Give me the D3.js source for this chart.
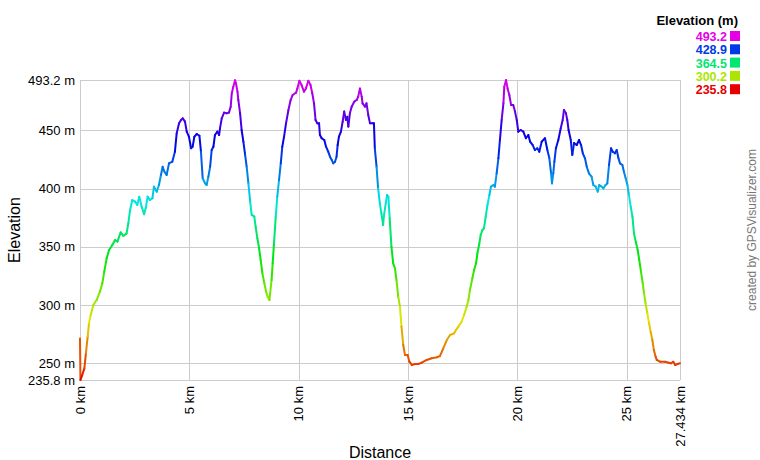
<!DOCTYPE html>
<html><head><meta charset="utf-8">
<script src="https://cdn.jsdelivr.net/npm/d3@7/dist/d3.min.js"></script>
<style>body{margin:0;background:#fff}svg{display:block;font-family:"Liberation Sans",Arial,sans-serif}</style>
</head><body><svg id="c" width="760" height="460"></svg>
<script>
const distKm = [
0,0.02,0.1,0.2,0.27,0.35,0.41,0.49,0.61,0.76,
0.91,1.02,1.11,1.22,1.33,1.48,1.6,1.71,1.86,1.98,
2.13,2.21,2.29,2.39,2.52,2.62,2.71,2.82,2.93,3.02,
3.09,3.2,3.31,3.38,3.51,3.61,3.7,3.78,3.86,3.96,
4.07,4.22,4.34,4.42,4.53,4.62,4.7,4.8,4.88,4.98,
5.08,5.15,5.23,5.34,5.46,5.53,5.61,5.72,5.79,5.87,
5.95,6.02,6.1,6.17,6.28,6.36,6.4,6.48,6.59,6.71,
6.81,6.89,6.94,7.01,7.09,7.13,7.2,7.24,7.32,7.39,
7.47,7.55,7.62,7.7,7.78,7.85,7.97,8.03,8.11,8.19,
8.26,8.34,8.43,8.51,8.58,8.66,8.76,8.81,8.87,8.95,
9.02,9.1,9.18,9.25,9.33,9.42,9.53,9.63,9.72,9.88,
9.94,10.03,10.13,10.24,10.33,10.44,10.54,10.62,10.7,10.77,
10.85,10.93,10.97,11.05,11.17,11.25,11.35,11.43,11.51,11.58,
11.66,11.73,11.78,11.84,11.93,12.01,12.08,12.16,12.22,12.27,
12.34,12.42,12.54,12.65,12.72,12.8,12.88,12.92,13.03,13.1,
13.18,13.26,13.36,13.44,13.48,13.56,13.63,13.71,13.78,13.86,
13.89,13.98,14.04,14.1,14.16,14.24,14.32,14.4,14.47,14.55,
14.63,14.7,14.78,14.86,14.98,15.06,15.17,15.32,15.47,15.63,
15.85,16.08,16.31,16.46,16.61,16.77,16.92,17.1,17.19,17.3,
17.45,17.56,17.68,17.76,17.83,17.94,18.02,18.11,18.17,18.26,
18.32,18.4,18.47,18.55,18.63,18.72,18.79,18.9,18.97,19.05,
19.13,19.2,19.28,19.36,19.4,19.48,19.55,19.63,19.71,19.81,
19.89,19.97,20.04,20.15,20.27,20.39,20.5,20.58,20.7,20.8,
20.91,21,21.11,21.26,21.37,21.46,21.54,21.58,21.64,21.69,
21.76,21.87,21.98,22.07,22.13,22.22,22.28,22.34,22.44,22.51,
22.59,22.71,22.82,22.91,22.99,23.09,23.17,23.27,23.39,23.47,
23.58,23.67,23.74,23.85,23.93,24.03,24.11,24.19,24.28,24.36,
24.46,24.54,24.62,24.69,24.8,24.87,24.95,25.03,25.1,25.18,
25.26,25.33,25.41,25.5,25.57,25.65,25.73,25.79,25.86,25.94,
26.02,26.09,26.17,26.24,26.32,26.37,26.52,26.75,26.9,27.02,
27.13,27.21,27.32,27.434
];
const elevM = [
271.5,235.8,240,245.8,258.7,273,284.4,291.6,300.2,304.4,
311.6,318.7,328.8,340.2,347.3,351.6,355.9,354.5,362.5,359.4,
361.6,370.2,381.7,390.2,388.8,386,393.1,384.5,378,384.5,
393.1,390.2,391.7,401.7,397.4,403.1,411.7,418.8,414.5,411.7,
421.7,423.1,431.7,447.4,456,458.9,460.3,457.5,448.9,444.6,
434.6,436,444.6,446.9,445.4,431.7,408.8,404.5,403.1,410.3,
418.8,433.1,436,446,448.9,446,451.7,460.3,465.2,464.6,
465.2,470.3,481.8,487.5,493,490.4,483.2,476,464.6,450.3,
440.3,428.9,418.8,404.5,388.8,377.4,376,367.4,357.3,348.8,
338.8,327.3,318.7,311.6,307.3,304.4,321.6,335.9,353,376,
393.1,407.4,421.7,436,444.6,456,467.5,476,480.3,482.3,
486,492.5,488.9,483.2,486,492.5,488.9,481.8,473.2,458.9,
456,456,446,443.2,441.7,436,431.7,427.4,424.6,421.7,
423.1,427.4,437.4,444.6,448.9,457.5,466.1,458.9,461.7,453.2,
464.6,470.3,474.6,476,478.9,486,478.9,473.2,470.3,473.2,
463.2,456,456,456,434.6,418.8,400.2,387.4,378.8,368.8,
375.9,387.4,394.5,393.1,374.5,350.2,335.9,331.6,321.6,307.3,
298.7,281.6,265.8,257.2,257.2,251.5,248.7,249.5,249.5,250.7,
253,254.4,255.2,256.4,263,270.1,274.4,275.8,278.7,281.6,
285.8,291.6,298.7,304.4,313,323,330.2,335.9,344.5,353,
360.2,364.5,365.9,375.9,386,394.5,401.7,403.1,401.7,413.1,
426,441.7,458.9,473.2,487.5,493.2,486,480.3,471.8,471.8,
466.1,458.9,448.9,450.3,448.9,443.2,446,440.3,437.4,433.1,
434.6,431.7,440.3,443.2,433.1,426,413.1,404.5,413.1,423.1,
434.6,441.7,451.7,458.9,467.5,464.6,458.9,450.3,441.7,428.9,
439.1,437.4,441.7,437.4,430.3,426,418.8,413.1,410.3,403.1,
401.7,397.4,403.1,401.7,400.2,403.1,404.5,420.3,434.6,431.7,
430.3,433.1,426,421.7,420.3,414.5,408.8,403.1,394.5,384.5,
376,361.6,354.5,347.3,338.8,328.8,318.7,310.2,301.6,293,
284.4,277.3,270.1,261.5,255.8,253,251.5,251.5,250.7,250.1,
251.5,248.7,249.5,250.1
];
const yTicks = [235.8, 250, 300, 350, 400, 450, 493.2];
const yTickLabels = ["235.8 m","250 m","300 m","350 m","400 m","450 m","493.2 m"];
const xTicks = [0, 5, 10, 15, 20, 25, 27.434];
const xTickLabels = ["0 km","5 km","10 km","15 km","20 km","25 km","27.434 km"];
const legendValues = [493.2, 428.9, 364.5, 300.2, 235.8];
const legendTitle = "Elevation (m)";

const svg = d3.select("#c");
const L=80,R=680,T=80,B=380;
const x = d3.scaleLinear().domain([0,27.434]).range([L,R]);
const y = d3.scaleLinear().domain([235.8,493.2]).range([B,T]);
const hue = d3.scaleLinear().domain([235.8,493.2]).range([0,300]).clamp(true);
const col = v => d3.hsl(hue(v),1,0.45).toString();

// grid
const g = svg.append("g");
g.selectAll(".hy").data(yTicks).enter().append("line")
 .attr("x1",L).attr("x2",R).attr("y1",d=>Math.round(y(d))+0.5).attr("y2",d=>Math.round(y(d))+0.5)
 .attr("stroke","#cccccc");
g.selectAll(".vx").data(xTicks).enter().append("line")
 .attr("y1",T).attr("y2",B).attr("x1",d=>Math.round(x(d))+0.5).attr("x2",d=>Math.round(x(d))+0.5)
 .attr("stroke","#cccccc");
g.append("line").attr("x1",L+0.5).attr("x2",L+0.5).attr("y1",T).attr("y2",B).attr("stroke","#cccccc");

// y labels
svg.selectAll(".yl").data(yTicks).enter().append("text")
 .attr("x",75).attr("y",d=>y(d)).attr("dy","0.35em").attr("text-anchor","end")
 .attr("font-size",13).attr("fill","#000").text((d,i)=>yTickLabels[i]);
// x labels
svg.selectAll(".xl").data(xTicks).enter().append("text")
 .attr("transform",d=>`translate(${x(d)},386) rotate(-90)`).attr("dy","0.35em").attr("text-anchor","end")
 .attr("font-size",13).attr("fill","#000").text((d,i)=>xTickLabels[i]);

svg.append("text").attr("transform","translate(20,230) rotate(-90)").attr("text-anchor","middle")
 .attr("font-size",16).text("Elevation");
svg.append("text").attr("x",380).attr("y",458).attr("text-anchor","middle")
 .attr("font-size",16).text("Distance");

// line segments
const n = Math.min(distKm.length, elevM.length);
const segs = [];
for(let i=0;i<n-1;i++) segs.push([i,i+1]);
svg.append("g").selectAll("line").data(segs).enter().append("line")
 .attr("x1",d=>x(distKm[d[0]])).attr("y1",d=>y(elevM[d[0]]))
 .attr("x2",d=>x(distKm[d[1]])).attr("y2",d=>y(elevM[d[1]]))
 .attr("stroke",d=>col((elevM[d[0]]+elevM[d[1]])/2))
 .attr("stroke-width",2).attr("stroke-linecap","round");

// legend
svg.append("text").attr("x",738).attr("y",25).attr("text-anchor","end")
 .attr("font-size",13).attr("font-weight","bold").text(legendTitle);
const lg = svg.selectAll(".lg").data(legendValues).enter().append("g")
 .attr("transform",(d,i)=>`translate(0,${41+i*13.3})`);
lg.append("text").attr("x",727).attr("y",0).attr("text-anchor","end")
 .attr("font-size",12.5).attr("font-weight","bold").attr("fill",d=>col(d)).text(d=>d.toFixed(1));
lg.append("rect").attr("x",730).attr("y",-10).attr("width",10).attr("height",10).attr("fill",d=>col(d));

svg.append("text").attr("transform","translate(756,230) rotate(-90)").attr("text-anchor","middle")
 .attr("font-size",12).attr("fill","#777").text("created by GPSVisualizer.com");
if(distKm.length!==elevM.length) svg.append("text").attr("x",300).attr("y",20).text("LEN "+distKm.length+" "+elevM.length);
</script></body></html>
